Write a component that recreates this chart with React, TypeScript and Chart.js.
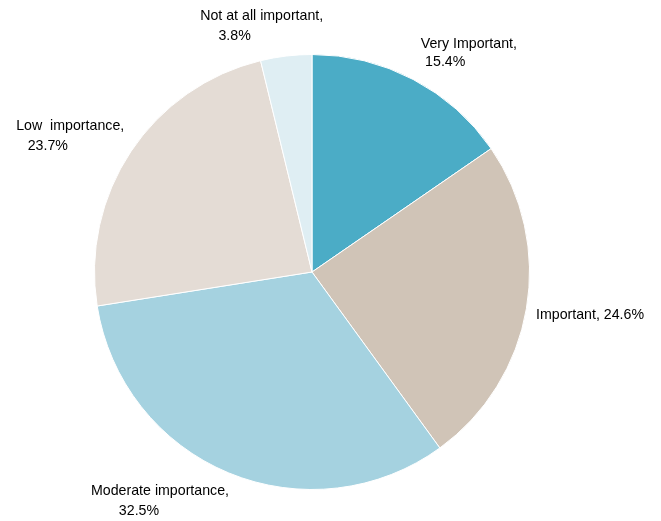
import React, { useEffect, useRef } from "react";
import { Chart, registerables } from "chart.js";

Chart.register(...registerables);

const categories = ["Very Important", "Important", "Moderate importance", "Low importance", "Not at all important"];
const values = [15.4, 24.6, 32.5, 23.7, 3.8];
const colors = ["#4BACC6", "#D0C4B7", "#A5D2E0", "#E4DCD5", "#DFEEF3"];
// label text lines per slice
const labelLines = [
  ["Very Important,", "15.4%"],
  ["Important, 24.6%"],
  ["Moderate importance,", "32.5%"],
  ["Low  importance,", "23.7%"],
  ["Not at all important,", "3.8%"],
];
// label line left-x / mid-y offsets, in units of pie radius from the centre
const labelOffsets = [
  [[0.5, -1.05], [0.52, -0.965]],
  [[1.03, 0.2]],
  [[-1.016, 1.005], [-0.888, 1.1]],
  [[-1.36, -0.672], [-1.307, -0.578]],
  [[-0.514, -1.175], [-0.43, -1.085]],
];

const labelPlugin = {
  id: "outerLabels",
  afterDatasetsDraw(chart: any) {
    const meta = chart.getDatasetMeta(0);
    const arc0 = meta.data[0];
    if (!arc0) return;
    const cx = arc0.x;
    const cy = arc0.y;
    const r = arc0.outerRadius;
    const ctx = chart.ctx;
    ctx.save();
    ctx.fillStyle = "#000";
    ctx.font = "14.2px 'Liberation Sans', Arial, sans-serif";
    ctx.textAlign = "left";
    ctx.textBaseline = "middle";
    labelLines.forEach((lines, i) => {
      lines.forEach((t, j) => {
        const [ox, oy] = labelOffsets[i][j];
        ctx.fillText(t, cx + ox * r, cy + oy * r);
      });
    });
    ctx.restore();
  },
};

export default function App() {
  const ref = useRef<HTMLCanvasElement>(null);
  useEffect(() => {
    if (!ref.current) return;
    const chart = new Chart(ref.current, {
      type: "pie",
      data: {
        labels: categories,
        datasets: [
          {
            data: values,
            backgroundColor: colors,
            borderColor: "#ffffff",
            borderWidth: 1,
          },
        ],
      },
      options: {
        animation: false,
        responsive: true,
        maintainAspectRatio: false,
        layout: { padding: { left: 94, right: 131, top: 54, bottom: 31 } },
        plugins: {
          legend: { display: false },
          tooltip: { enabled: false },
        },
      },
      plugins: [labelPlugin],
    });
    return () => chart.destroy();
  }, []);
  return (
    <div style={{ position: "fixed", left: 0, top: 0, width: 661, height: 521, background: "#fff" }}>
      <canvas ref={ref} />
    </div>
  );
}
